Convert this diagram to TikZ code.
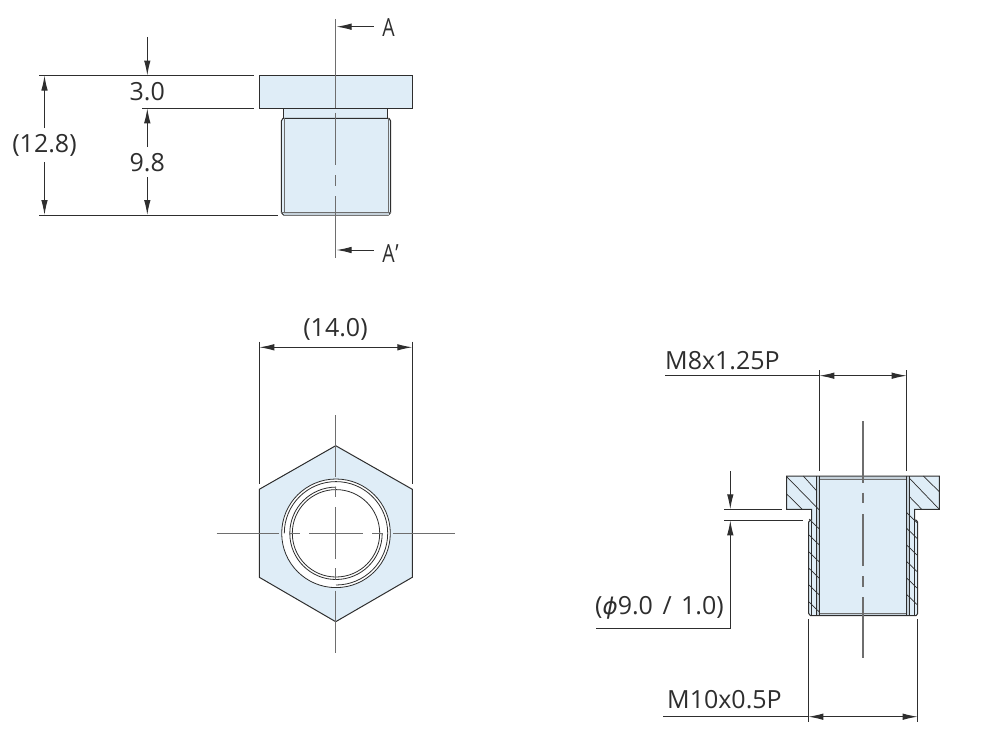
\documentclass[tikz,border=0pt]{standalone}
\usepackage{fontspec}
\setmainfont{Open Sans}
\newfontfamily\phifont{DejaVu Sans}
\usetikzlibrary{arrows.meta}
\definecolor{partblue}{HTML}{DFEDF7}
\definecolor{bandgray}{HTML}{C5D1DA}
\definecolor{inkdark}{HTML}{2E2E2E}
\definecolor{axisgray}{HTML}{6E6E6E}
\tikzset{
  dimline/.style={line width=1pt,draw=inkdark},
  dimarrow/.style={dimline,-{Latex[length=15pt,width=6.5pt]}},
  dimboth/.style={dimline,{Latex[length=15pt,width=6.5pt]}-{Latex[length=15pt,width=6.5pt]}},
  outline/.style={line width=1pt,draw=inkdark,fill=partblue},
  thin part/.style={line width=0.8pt,draw=inkdark},
  bore/.style={line width=0.6pt,draw=inkdark!70},
  hatchline/.style={line width=0.7pt,draw=inkdark},
  axisline/.style={line width=1.1pt,draw=axisgray},
  dimlabel/.style={inner sep=0pt,text=inkdark,font=\fontsize{25}{30}\selectfont},
  seclabel/.style={dimlabel,xscale=0.78},
}

\begin{document}
\begin{tikzpicture}[x=1pt,y=-1pt]
  \useasboundingbox (0,0) rectangle (992,752);

  % Side view
  \draw[outline] (259.7,75.5) rectangle (412.3,108.3);
  \draw[outline] (283.7,108.3) rectangle (387.7,118.3);
  \draw[outline] (283,118.3) -- (389,118.3) -- (390.7,121) -- (390.7,212.5) -- (388.5,215)
    -- (283.5,215) -- (281.3,212.5) -- (281.3,121) -- cycle;
  \fill[bandgray] (283.5,212) rectangle (388.5,214.6);
  \draw[bore] (284,118.3) -- (284,212) (388,212) -- (388,118.3);
  \draw[bore] (281.3,212) -- (390.7,212);
  \foreach \ya/\yb in {19/108,112.7/165,175/186,196/258}
    \draw[axisline] (335.7,\ya) -- (335.7,\yb);

  \draw[dimline] (39,75.5) -- (254,75.5);
  \draw[dimline] (142,108.3) -- (254,108.3);
  \draw[dimline] (39,215) -- (278,215);
  \node[dimlabel] (lblTotal) at (44.5,145) {(12.8)};
  \draw[dimarrow] (44.5,128) -- (44.5,75.5);
  \draw[dimarrow] (44.5,162) -- (44.5,215);
  \node[dimlabel] (lblHead) at (147.3,92) {3.0};
  \draw[dimarrow] (147.3,37) -- (147.3,75.5);
  \node[dimlabel] (lblBody) at (147.3,163) {9.8};
  \draw[dimarrow] (147.3,147) -- (147.3,108.3);
  \draw[dimarrow] (147.3,177) -- (147.3,215);

  % Section marks
  \draw[dimarrow] (373.5,26.7) -- (336.5,26.7);
  \draw[dimarrow] (373.5,250) -- (336.5,250);
  \node[seclabel] (lblSecA) at (388.5,28) {A};
  \node[seclabel] (lblSecB) at (388.5,254) {A};
  \node[seclabel] (lblPrime) at (397,254) {’};

  % Hex view
  \draw[outline] (335.7,445.7) -- (412.3,489.3) -- (412.3,577.3) -- (335.7,621.7)
    -- (259.3,577.3) -- (259.3,489.3) -- cycle;
  \draw[thin part,fill=white] (336,533.3) circle (54.3);
  \draw[thin part] (284.3,533.3) arc[start angle=180,end angle=450,radius=51.7];
  \draw[thin part] (336,487.1) arc[start angle=270,end angle=0,radius=46.2];
  \draw[thin part] (336,533.3) circle (43.7);
  \foreach \xa/\xb in {216.7/279,289/300,309/363,372/383,393/455}
    \draw[axisline] (\xa,533.5) -- (\xb,533.5);
  \foreach \ya/\yb in {415/477,487/497,507/559,568/580,590.7/652.7}
    \draw[axisline] (335.7,\ya) -- (335.7,\yb);

  \draw[dimline] (259.3,341.7) -- (259.3,484);
  \draw[dimline] (412.3,341.7) -- (412.3,484);
  \draw[dimboth] (259.3,347.3) -- (412.3,347.3);
  \node[dimlabel] (lblWidth) at (335.5,329) {(14.0)};

  % Section view
  \draw[outline] (786.5,476) -- (939.3,476) -- (939.3,509.3) -- (914.5,509.3) -- (914.5,520)
    -- (916,520) -- (917.7,522) -- (917.7,613.5) -- (916,615.7) -- (810.5,615.7)
    -- (808.7,613.5) -- (808.7,522) -- (810.5,520) -- (811.7,520) -- (811.7,509.3)
    -- (786.5,509.3) -- cycle;
  \fill[bandgray] (816.5,476.5) rectangle (819.3,615.2);
  \fill[bandgray] (906.7,476.5) rectangle (909.5,615.2);
  \fill[bandgray] (819.3,476.5) rectangle (906.7,479.3);
  \fill[bandgray] (819.3,613.7) rectangle (906.7,615.2);
  \draw[bore] (819.3,479.3) rectangle (906.7,613.7);
  \draw[thin part] (816.5,476) -- (816.5,615.7);
  \draw[thin part] (909.5,476) -- (909.5,615.7);
  \draw[hatchline] (819.3,476) -- (819.3,615.7) (906.7,476) -- (906.7,615.7);
  \draw[hatchline] (811.7,521) -- (811.7,615.7);
  \draw[hatchline] (914.5,521) -- (914.5,615.7);
  % Hatching
  \draw[hatchline] (786.7,476.7) -- (819.3,510);
  \draw[hatchline] (803.3,476) -- (816.5,490.7);
  \draw[hatchline] (786.7,494) -- (802.3,509.3);
  \draw[hatchline] (909.5,478.3) -- (939.3,509.3);
  \draw[hatchline] (923.3,476) -- (939.3,491.7);
  \draw[hatchline] (909.5,496.7) -- (921.7,509.3);
  \foreach \yy in {519,535,552,568.3,585,602}
    \draw[hatchline] (809,\yy) -- (819.3,\yy+10);
  \foreach \yy in {512.7,528.3,545,561.5,578,594.5}
    \draw[hatchline] (906.7,\yy) -- (917,\yy+10);
  \foreach \ya/\yb in {421/482.7,492.7/503,514/566,576/586.7,597/658}
    \draw[axisline] (863,\ya) -- (863,\yb);

  % Thread and recess dimensions
  \node[dimlabel,anchor=west] (lblInner) at (665,361) {M8x1.25P};
  \draw[dimline] (665,375.7) -- (819.3,375.7);
  \draw[dimline] (819.3,370) -- (819.3,471);
  \draw[dimline] (906.7,370) -- (906.7,471);
  \draw[dimboth] (819.3,375.7) -- (906.7,375.7);

  \node[dimlabel,anchor=west] (lblOuter) at (667,700) {M10x0.5P};
  \draw[dimline] (663,716.7) -- (808.3,716.7);
  \draw[dimline] (808.3,619.3) -- (808.3,721.7);
  \draw[dimline] (917.7,619.3) -- (917.7,721.7);
  \draw[dimboth] (808.3,716.7) -- (917.7,716.7);

  \draw[dimline] (724.3,509.3) -- (781.7,509.3);
  \draw[dimline] (724.3,520.3) -- (802.7,520.3);
  \draw[dimarrow] (730.3,471) -- (730.3,509.3);
  \draw[dimarrow] (596,628) -- (730.3,628) -- (730.3,520.3);
  \node[dimlabel,anchor=west] (lblGroove) at (595,608) {({\phifont\itshape\fontsize{23}{28}\selectfont ϕ}9.0\hspace{3pt} / \hspace{3pt}1.0)};
\end{tikzpicture}
\end{document}
